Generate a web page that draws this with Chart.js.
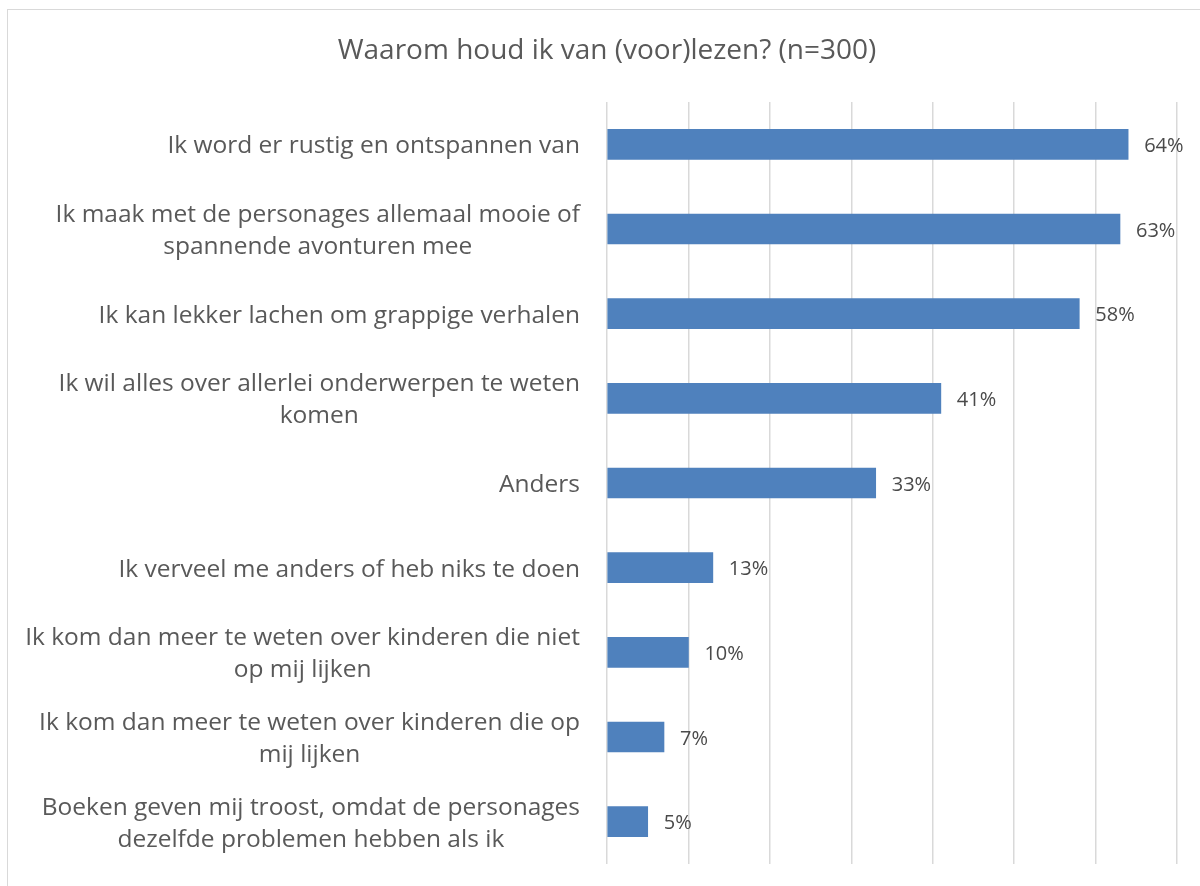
<!DOCTYPE html>
<html lang="nl">
<head>
    <meta charset="UTF-8">
    <title>Waarom houd ik van (voor)lezen?</title>
    <script src="https://cdn.jsdelivr.net/npm/chart.js"></script>
    <style>
        html, body {
            margin: 0;
            padding: 0;
            background: #ffffff;
            overflow: hidden;
        }
        #frame {
            position: absolute;
            left: 7px;
            top: 9px;
            width: 1300px;
            height: 1000px;
            border: 1px solid #d9d9d9;
        }
        #wrap {
            position: absolute;
            left: 0;
            top: 0;
            width: 1200px;
            height: 886px;
        }
    </style>
</head>
<body>
    <div id="frame"></div>
    <div id="wrap"><canvas id="chart" width="1200" height="886"></canvas></div>

    <script>
        const chartTitle = 'Waarom houd ik van (voor)lezen? (n=300)';

        const categories = [
            ['Ik word er rustig en ontspannen van'],
            ['Ik maak met de personages allemaal mooie of', 'spannende avonturen mee'],
            ['Ik kan lekker lachen om grappige verhalen'],
            ['Ik wil alles over allerlei onderwerpen te weten', 'komen'],
            ['Anders'],
            ['Ik verveel me anders of heb niks te doen'],
            ['Ik kom dan meer te weten over kinderen die niet', 'op mij lijken'],
            ['Ik kom dan meer te weten over kinderen die op', 'mij lijken'],
            ['Boeken geven mij troost, omdat de personages', 'dezelfde problemen hebben als ik']
        ];

        const percentages = [64, 63, 58, 41, 33, 13, 10, 7, 5];

        const textColor = '#595959';
        const fontFamily = '"Open Sans", "Noto Sans", sans-serif';

        // category labels (right aligned block, lines centred) + value labels + title
        const labelPlugin = {
            id: 'labels',
            afterDraw(chart) {
                const ctx = chart.ctx;
                const yScale = chart.scales.y;
                ctx.save();
                ctx.fillStyle = textColor;
                ctx.textBaseline = 'middle';

                ctx.font = '24.5px ' + fontFamily;
                ctx.textAlign = 'center';
                const lineHeight = 32;
                categories.forEach((lines, i) => {
                    const y = yScale.getPixelForValue(i) + 2;
                    const w = Math.max(...lines.map(l => ctx.measureText(l).width));
                    const cx = 580 - w / 2;
                    const y0 = y - (lines.length - 1) * lineHeight / 2;
                    lines.forEach((l, j) => ctx.fillText(l, cx, y0 + j * lineHeight));
                });

                ctx.font = '20px ' + fontFamily;
                ctx.textAlign = 'left';
                ctx.fillStyle = '#4a4a4a';
                const meta = chart.getDatasetMeta(0);
                meta.data.forEach((bar, i) => {
                    ctx.fillText(percentages[i] + '%', bar.x + 16, bar.y + 2);
                });

                ctx.font = '28px ' + fontFamily;
                ctx.textAlign = 'center';
                ctx.fillStyle = textColor;
                ctx.fillText(chartTitle, 607, 51);
                ctx.restore();
            }
        };

        new Chart(document.getElementById('chart'), {
            type: 'bar',
            data: {
                labels: categories.map(c => c.join(' ')),
                datasets: [{
                    data: percentages,
                    backgroundColor: '#4f81bd',
                    borderWidth: 0,
                    barThickness: 30
                }]
            },
            options: {
                indexAxis: 'y',
                responsive: false,
                animation: false,
                layout: {
                    padding: { left: 607, right: 23, top: 102, bottom: 22 }
                },
                plugins: {
                    legend: { display: false },
                    tooltip: { enabled: false },
                    title: { display: false }
                },
                scales: {
                    x: {
                        min: 0,
                        max: 70,
                        ticks: { display: false, stepSize: 10 },
                        grid: { color: '#d9d9d9', lineWidth: 1.5, drawTicks: false },
                        border: { display: false }
                    },
                    y: {
                        display: false
                    }
                }
            },
            plugins: [labelPlugin]
        });
    </script>
</body>
</html>
